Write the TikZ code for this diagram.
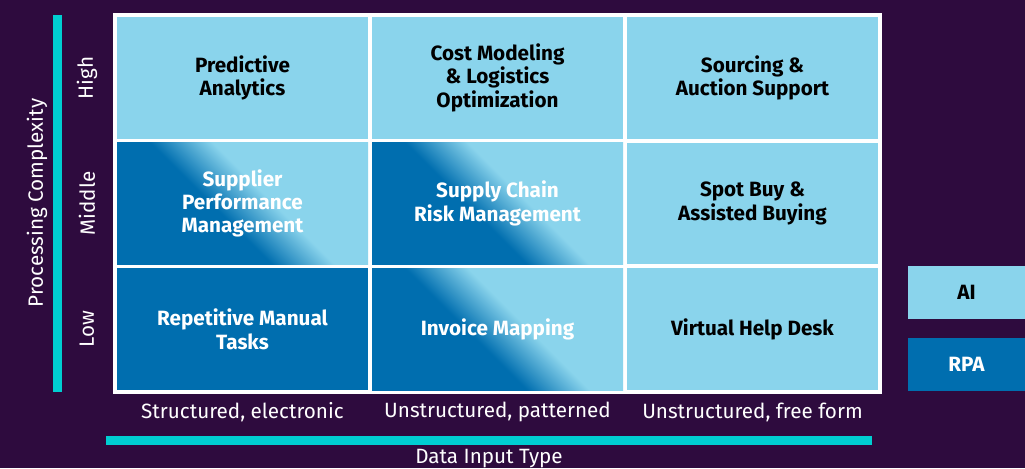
\documentclass[tikz,border=0pt]{standalone}
\usepackage{fontspec}
\setmainfont{Fira Sans}

\definecolor{bgpurple}{HTML}{2E0B3E}
\definecolor{ailight}{HTML}{8AD4EC}
\definecolor{rpadark}{HTML}{006EAF}
\definecolor{axiscyan}{HTML}{00CED1}

\pgfdeclareverticalshading{rpatoai}{100bp}{color(0bp)=(rpadark); color(44bp)=(rpadark); color(56bp)=(ailight); color(100bp)=(ailight)}

\tikzset{
  txt/.style={font=\fontsize{15.5pt}{17.5pt}\selectfont},
  cell/.style={font=\fontsize{15.5pt}{17.5pt}\selectfont\bfseries, align=center, inner sep=0pt,
    minimum width=188.25pt, minimum height=91.25pt},
  aicell/.style={cell, fill=ailight, text=black},
  rpacell/.style={cell, fill=rpadark, text=white},
  mixcell/.style={cell, shade, shading=rpatoai, shading angle=-45, text=white},
}

\begin{document}
\begin{tikzpicture}[x=0.75pt,y=-0.75pt]
\fill[bgpurple] (0,0) rectangle (1025,468);
\useasboundingbox (0,0) rectangle (1025,468);

% grid
\fill[white] (113,13) rectangle (882,394);
\foreach \name/\c/\r/\kind/\label in {
  predictive/1/1/aicell/{Predictive\\Analytics},
  costmodel/2/1/aicell/{Cost Modeling\\\& Logistics\\Optimization},
  sourcing/3/1/aicell/{Sourcing \&\\Auction Support},
  supplier/1/2/mixcell/{Supplier\\Performance\\Management},
  supplyrisk/2/2/mixcell/{Supply Chain\\Risk Management},
  spotbuy/3/2/aicell/{Spot Buy \&\\Assisted Buying},
  repetitive/1/3/rpacell/{Repetitive Manual\\Tasks},
  invoice/2/3/mixcell/{Invoice Mapping},
  helpdesk/3/3/aicell/{Virtual Help Desk}}{
  \node[\kind] (\name) at ({242.5+255*(\c-1)},{77.8+125.7*(\r-1)}) {\label};
}

% vertical axis
\fill[axiscyan] (53,15) rectangle (62,392);
\node[txt, text=white, rotate=90] (complexity) at (37,203) {Processing Complexity};
\foreach \name/\r/\label in {high/1/High, middle/2/Middle, low/3/Low}{
  \node[txt, text=white, rotate=90] (\name) at (87,{77.8+125.7*(\r-1)}) {\label};
}

% horizontal axis
\foreach \name/\c/\label in {structured/1/{Structured, electronic},
  patterned/2/{Unstructured, patterned}, freeform/3/{Unstructured, free form}}{
  \node[txt, text=white] (\name) at ({242.5+255*(\c-1)},412) {\label};
}
\fill[axiscyan] (106,436) rectangle (871.5,445);
\node[txt, text=white] (inputtype) at (489,459) {Data Input Type};

% legend
\node[cell, fill=ailight, text=black, minimum width=87.75pt, minimum height=39.75pt] (ailegend) at (966.5,292.5) {AI};
\node[cell, fill=rpadark, text=white, minimum width=87.75pt, minimum height=39.75pt] (rpalegend) at (966.5,364.5) {RPA};
\end{tikzpicture}
\end{document}
